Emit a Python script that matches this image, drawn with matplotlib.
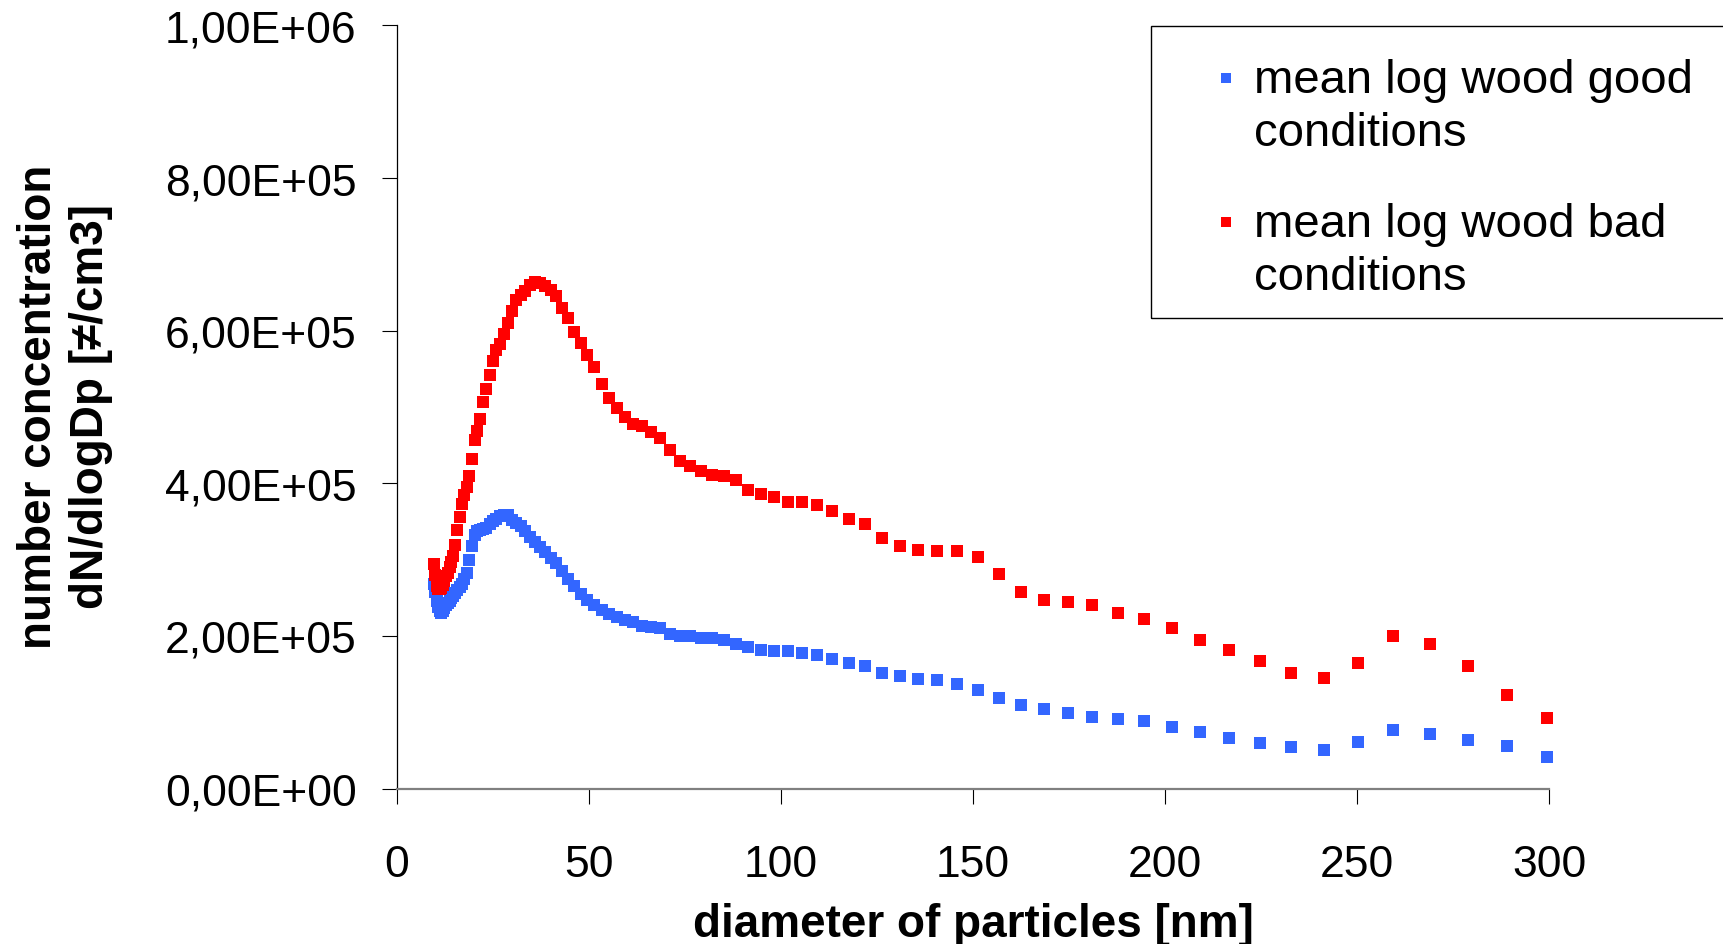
import numpy as np
import matplotlib
matplotlib.use('Agg')
import matplotlib.pyplot as plt
from matplotlib.ticker import FuncFormatter, MultipleLocator
from matplotlib.patches import Rectangle
from matplotlib.lines import Line2D

plt.rcParams['font.family'] = ['Liberation Sans', 'DejaVu Sans']

# particle diameter [nm] (SMPS channels)
diam = [9.65, 10.0, 10.4, 10.7, 11.1, 11.5, 11.9, 12.3, 12.8, 13.2, 13.7, 14.1,
        14.6, 15.1, 15.7, 16.3, 16.8, 17.5, 18.1, 18.8, 19.5, 20.2, 20.9, 21.7,
        22.5, 23.3, 24.1, 25.0, 25.9, 26.9, 27.9, 28.9, 30.0, 31.1, 32.2, 33.4,
        34.6, 35.9, 37.2, 38.5, 40.0, 41.4, 42.9, 44.5, 46.1, 47.8, 49.6, 51.4,
        53.3, 55.2, 57.3, 59.4, 61.5, 63.8, 66.1, 68.5, 71.0, 73.7, 76.4, 79.1,
        82.0, 85.1, 88.2, 91.4, 94.7, 98.2, 101.8, 105.5, 109.4, 113.4, 117.6,
        121.9, 126.3, 131.0, 135.8, 140.7, 145.9, 151.2, 156.8, 162.5, 168.5,
        174.7, 181.1, 187.7, 194.6, 201.7, 209.1, 216.7, 224.7, 232.9, 241.4,
        250.3, 259.5, 269.0, 278.8, 289.0, 299.6]

# dN/dlogDp in thousands #/cm3
good_k = [268, 258, 246, 238, 233, 230, 232, 236, 240, 243, 246, 249,
          252, 256, 260, 264, 268, 275, 283, 300, 318, 332, 338, 339,
          340, 342, 346, 350, 353, 357, 359, 358, 352, 348, 344, 338,
          330, 323, 317, 310, 302, 295, 285, 275, 265, 255, 247, 240,
          234, 229, 225, 221, 218, 213, 211, 210, 202, 200, 200, 197,
          197, 195, 189, 185, 182, 180, 180, 177, 175, 170, 164,
          160, 152, 147, 144, 142, 137, 129, 118, 110, 104,
          99, 94, 91, 89, 81, 74, 66, 59, 54, 51,
          61, 77, 71, 64, 56, 41]

bad_k = [294, 280, 266, 262, 261, 263, 267, 272, 278, 283, 290, 297,
         305, 319, 339, 356, 373, 384, 395, 410, 432, 457, 468, 484,
         507, 524, 542, 560, 575, 582, 595, 610, 626, 640, 647, 652,
         660, 664, 662, 659, 653, 646, 630, 617, 598, 584, 568, 552,
         530, 512, 499, 487, 478, 475, 467, 459, 444, 429, 422, 416,
         411, 409, 404, 391, 386, 382, 376, 376, 372, 364, 353,
         346, 328, 318, 313, 311, 311, 303, 281, 258, 247,
         245, 240, 230, 222, 210, 195, 182, 167, 152, 145,
         165, 200, 190, 160, 122, 92]

labels = ['mean log wood good\nconditions', 'mean log wood bad\nconditions']
colors = ['#3366FF', '#FF0000']

W, H = 1724, 945
fig = plt.figure(figsize=(W / 100, H / 100), dpi=100)
ax = fig.add_axes([397 / W, 1 - 789.5 / H, (1549 - 397) / W, (789.5 - 26.4) / H])

good = np.array(good_k) * 1e3
bad = np.array(bad_k) * 1e3
ax.plot(diam, good, linestyle='none', marker='s', markersize=8,
        markeredgewidth=0, color=colors[0], clip_on=False)
ax.plot(diam, bad, linestyle='none', marker='s', markersize=8,
        markeredgewidth=0, color=colors[1], clip_on=False)

ax.set_xlim(0, 300)
ax.set_ylim(0, 1e6)
ax.xaxis.set_major_locator(MultipleLocator(50))
ax.yaxis.set_major_locator(MultipleLocator(2e5))
ax.yaxis.set_major_formatter(FuncFormatter(lambda v, p: f'{v:.2E}'.replace('.', ',')))

for s in ['top', 'right']:
    ax.spines[s].set_visible(False)
ax.spines['left'].set_color('black')
ax.spines['left'].set_linewidth(0.9)
ax.spines['bottom'].set_color('#808080')
ax.spines['bottom'].set_linewidth(1.6)

ax.tick_params(axis='both', direction='out', length=11, width=0.8, color='black')
ax.tick_params(axis='x', labelsize=32, pad=29)
ax.tick_params(axis='y', labelsize=32, pad=18)

ax.set_xlabel('diameter of particles [nm]', fontsize=33, fontweight='bold', labelpad=12)
fig.text(65 / W, 1 - 407 / H, 'number concentration\ndN/dlogDp [≠/cm3]',
         rotation=90, ha='center', va='center', multialignment='center',
         fontsize=33, fontweight='bold', linespacing=1.22)

# legend box
fig.patches.append(Rectangle((1151 / W, 1 - 319 / H), 0.4, (319 - 27) / H,
                             transform=fig.transFigure, fill=False,
                             edgecolor='black', linewidth=1.0))
for i, (lab, c) in enumerate(zip(labels, colors)):
    ytop = [79, 223][i]
    fig.add_artist(Line2D([1226 / W], [1 - ytop / H], marker='s', markersize=6.5,
                          markeredgewidth=0, color=c, linestyle='none',
                          transform=fig.transFigure))
    fig.text(1254 / W, 1 - (ytop + 28.5) / H, lab, ha='left', va='center',
             fontsize=34, linespacing=1.26)

fig.savefig('out.png', dpi=100)
